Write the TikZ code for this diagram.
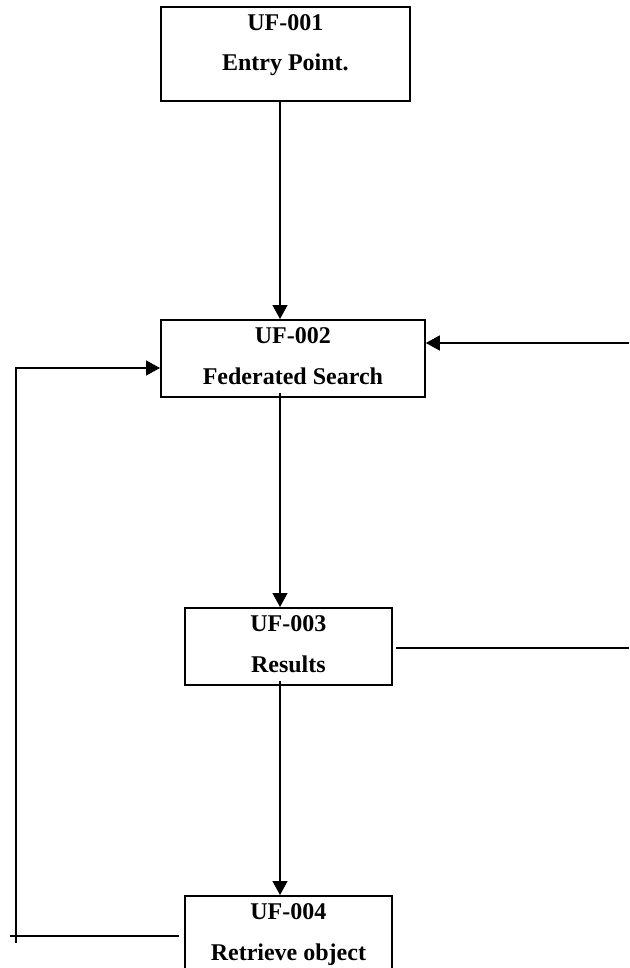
\documentclass[tikz,border=0pt]{standalone}
\usepackage{fontspec}
\setmainfont{Liberation Serif}
\usetikzlibrary{arrows.meta,calc}
\tikzset{box/.style={draw, line width=1.8pt, anchor=north west, inner sep=0pt},
  txt/.style={anchor=base, font=\bfseries\fontsize{24}{28}\selectfont},
  link/.style={line width=1.4pt},
  flow/.style={link, -{Triangle[length=14pt, width=15pt]}}}

\begin{document}
\begin{tikzpicture}[x=1pt, y=-1pt]
\useasboundingbox (0,0) rectangle (629,968);
\clip (0,0) rectangle (629,968);
%boxes
\node[box, minimum width=249pt, minimum height=94pt] (b1) at (160,6) {};
\node[box, minimum width=264pt, minimum height=77pt] (b2) at (160,319) {};
\node[box, minimum width=207pt, minimum height=77pt] (b3) at (184,607) {};
\node[box, minimum width=207pt, minimum height=100pt] (b4) at (184,895) {};
\foreach \n/\id/\name in {1/UF-001/Entry Point., 2/UF-002/Federated Search, 3/UF-003/Results, 4/UF-004/Retrieve object}
{\node[txt] (id\n) at ($(b\n.north)+(0,24.5)$) {\id};
 \node[txt] (nm\n) at ($(id\n.base)+(0,40.5)$) {\name};}

%main flow
\coordinate (spine) at (280,0);
\draw[flow] (b1.south -| spine) -- (b2.north -| spine);
\draw[flow] ($(b2.south -| spine)+(0,-5)$) -- (b3.north -| spine);
\draw[flow] ($(b3.south -| spine)+(0,-5)$) -- (b4.north -| spine);

%side links
\coordinate (inR) at (629,343);
\draw[flow] (inR) -- (inR -| b2.east);
\coordinate (outR) at (629,648);
\draw[link] ($(b3.east |- outR)+(3,0)$) -- (outR);

%loop back
\coordinate (lpB) at (16,943);
\coordinate (lpT) at (16,368);
\draw[flow] (lpB) -- (lpT) -- (lpT -| b2.west);
\coordinate (lpE) at (10,936);
\draw[link] (lpE) -- ($(lpE -| b4.west)+(-5,0)$);
\end{tikzpicture}
\end{document}
